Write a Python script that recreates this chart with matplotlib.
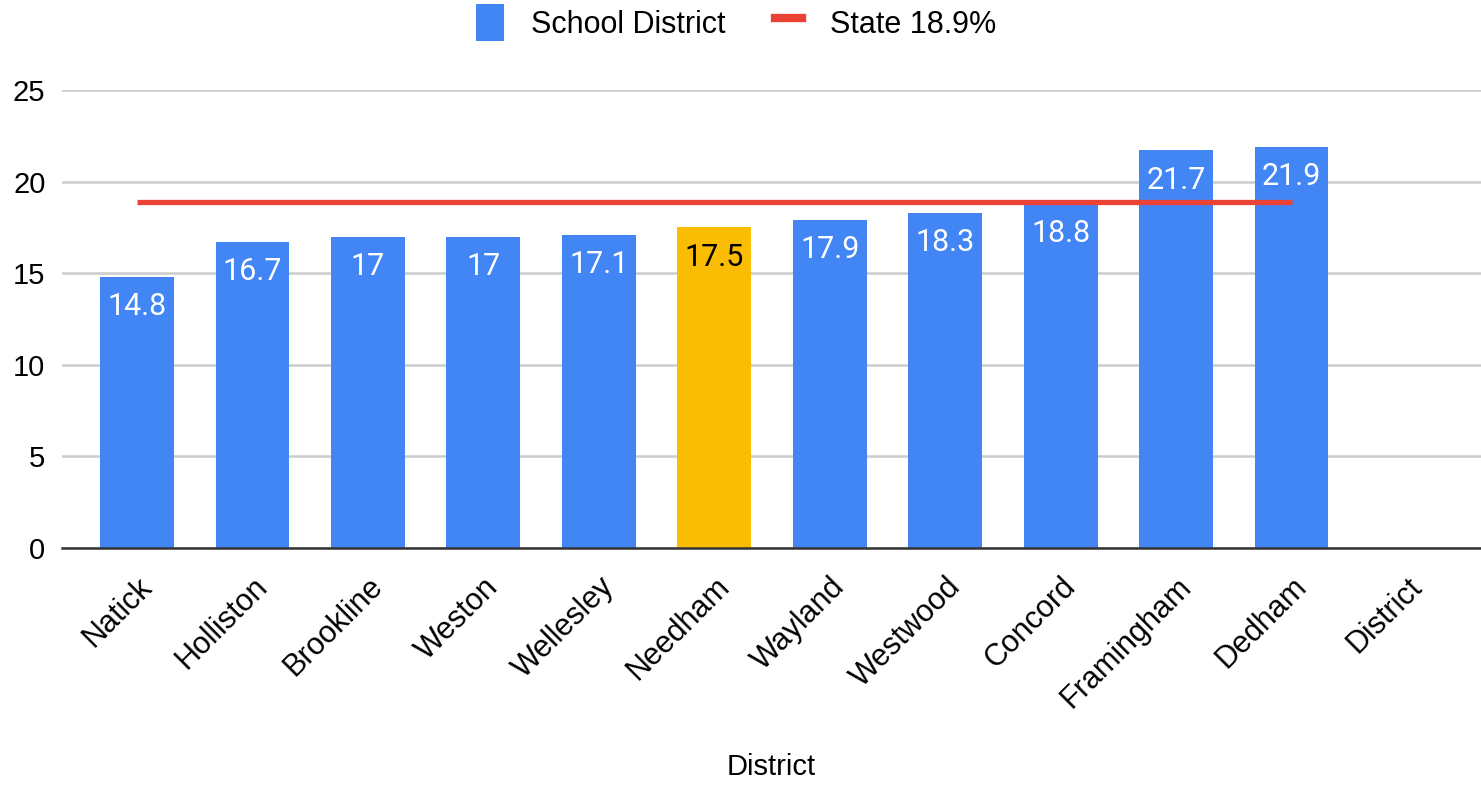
import numpy as np
import matplotlib
matplotlib.use('Agg')
import matplotlib.pyplot as plt
from matplotlib.patches import Patch
from matplotlib.lines import Line2D

districts = ['Natick', 'Holliston', 'Brookline', 'Weston', 'Wellesley', 'Needham',
             'Wayland', 'Westwood', 'Concord', 'Framingham', 'Dedham', 'District']
values = [14.8, 16.7, 17, 17, 17.1, 17.5, 17.9, 18.3, 18.8, 21.7, 21.9, np.nan]
state_avg = 18.9
highlight = 'Needham'

blue = '#4285F4'
yellow = '#FBBC04'
red = '#EA4335'

plt.rcParams['font.family'] = ['Liberation Sans', 'DejaVu Sans']

fig = plt.figure(figsize=(14.81, 7.86), dpi=100)
ax = fig.add_axes([0.0419, 0.3028, 0.958, 0.5827])

x = np.arange(len(districts))
colors = [yellow if d == highlight else blue for d in districts]
ax.bar(x, values, width=0.64, color=colors, zorder=2)

# state line across the districts that have data
has_val = [i for i, v in enumerate(values) if not np.isnan(v)]
ax.plot([has_val[0], has_val[-1]], [state_avg, state_avg], color=red, lw=3.8,
        solid_capstyle='butt', zorder=3)

for i, v in enumerate(values):
    if np.isnan(v):
        continue
    ax.annotate(f'{v:g}', (i, v), xytext=(0, -11), textcoords='offset points',
                ha='center', va='top', fontsize=22, family=['Roboto', 'DejaVu Sans'],
                color='black' if districts[i] == highlight else 'white', zorder=4)

ax.set_ylim(0, 25)
ax.set_xlim(-0.65, 11.64)
ax.set_yticks([0, 5, 10, 15, 20, 25])
ax.grid(axis='y', color='#CCCCCC', lw=1.8, zorder=0)
ax.set_axisbelow(True)
for s in ['top', 'right', 'left']:
    ax.spines[s].set_visible(False)
ax.spines['bottom'].set_color('#333333')
ax.spines['bottom'].set_linewidth(1.8)
ax.spines['bottom'].set_zorder(3)

ax.set_xticks(x)
ax.set_xticklabels(districts, rotation=45, ha='right', rotation_mode='anchor', fontsize=22)
ax.tick_params(axis='x', length=0, pad=17)
ax.tick_params(axis='y', length=0, pad=12, labelsize=21)
ax.set_xlabel('District', fontsize=21, labelpad=28)

handles = [Patch(facecolor=blue, edgecolor='none'),
           Line2D([0], [0], color=red, lw=6)]
fig.legend(handles, ['School District', 'State 18.9%'], loc='upper center',
           bbox_to_anchor=(0.497, 1.03), ncol=2, frameon=False, fontsize=22,
           handlelength=0.9, handleheight=1.5, columnspacing=1.6, handletextpad=0.9)

fig.savefig('out.png', dpi=100)
